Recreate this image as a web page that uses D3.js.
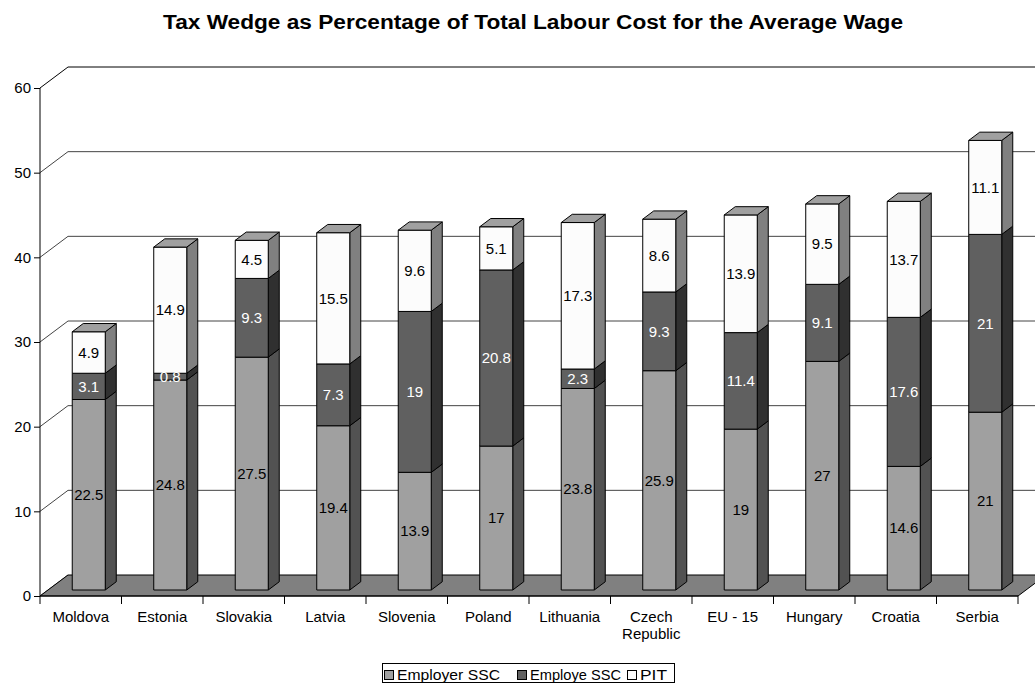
<!DOCTYPE html>
<html>
<head>
<meta charset="utf-8">
<script src="https://cdn.jsdelivr.net/npm/d3@7"></script>
<style>
  body { margin: 0; background: #fff; }
  svg { display: block; font-family: "Liberation Sans", Arial, sans-serif; }
</style>
</head>
<body>
<svg id="chart" width="1035" height="683"></svg>
<script>
// Tax wedge components, % of total labour cost
const countries = ["Moldova", "Estonia", "Slovakia", "Latvia", "Slovenia", "Poland",
                   "Lithuania", "Czech Republic", "EU - 15", "Hungary", "Croatia", "Serbia"];
const employerSSC = [22.5, 24.8, 27.5, 19.4, 13.9, 17, 23.8, 25.9, 19, 27, 14.6, 21];
const employeeSSC = [3.1, 0.8, 9.3, 7.3, 19, 20.8, 2.3, 9.3, 11.4, 9.1, 17.6, 21];
const pit = [4.9, 14.9, 4.5, 15.5, 9.6, 5.1, 17.3, 8.6, 13.9, 9.5, 13.7, 11.1];
const seriesNames = ["Employer SSC", "Employe SSC", "PIT"];
const yTicks = [0, 10, 20, 30, 40, 50, 60];

const series = [
  { name: seriesNames[0], values: employerSSC, front: "#a0a0a0", side: "#525252", top: "#bdbdbd", text: "#000" },
  { name: seriesNames[1], values: employeeSSC, front: "#606060", side: "#303030", top: "#7a7a7a", text: "#fff" },
  { name: seriesNames[2], values: pit,         front: "#fcfcfc", side: "#808080", top: "#a0a0a0", text: "#000" }
];

const svg = d3.select("#chart");
const FS = 15;

// Plot frame: front plane and oblique depth
const left = 40, right = 1018, floorY = 596, topY = 88;
const depthX = 28, depthY = 21;

const x = d3.scaleBand().domain(countries).range([left, right]);
const y = d3.scaleLinear().domain([0, 60]).range([floorY, topY]);

// project (x, value, depth 0..1) to screen
const px = (sx, z) => sx + depthX * z;
const py = (v, z) => y(v) - depthY * z;

const plot = svg.append("g");

// back wall gridlines + left wall diagonals
yTicks.forEach(t => {
  const col = t === 60 ? "#000" : "#444";
  if (t > 0) {
    plot.append("line")
      .attr("x1", px(left, 1)).attr("y1", py(t, 1))
      .attr("x2", px(right, 1) + 20).attr("y2", py(t, 1))
      .attr("stroke", col).attr("stroke-width", 1);
  }
  plot.append("line")
    .attr("x1", px(left, 0)).attr("y1", py(t, 0))
    .attr("x2", px(left, 1)).attr("y2", py(t, 1))
    .attr("stroke", col).attr("stroke-width", 1);
});

// floor
const floorPts = [[px(left, 0), py(0, 0)], [px(right, 0), py(0, 0)],
                  [px(right, 1), py(0, 1)], [px(left, 1), py(0, 1)]];
plot.append("polygon")
  .attr("points", floorPts.map(p => p.join(",")).join(" "))
  .attr("fill", "#808080").attr("stroke", "#000").attr("stroke-width", 1);

// bars
const bw = x.bandwidth() * 0.405;
const z0 = 8 / depthX, z1 = z0 + 11 / depthX;
const bars = plot.append("g");
const labels = plot.append("g");

countries.forEach((c, i) => {
  const xl = x(c) + (x.bandwidth() - bw) / 2;
  const xr = xl + bw;
  let base = 0;
  series.forEach((s, si) => {
    const v = s.values[i];
    const lo = base, hi = base + v;
    base = hi;
    const g = bars.append("g").attr("stroke", "#000").attr("stroke-width", 1).attr("stroke-linejoin", "round");
    // side face
    g.append("polygon")
      .attr("points", [[px(xr, z0), py(lo, z0)], [px(xr, z1), py(lo, z1)],
                       [px(xr, z1), py(hi, z1)], [px(xr, z0), py(hi, z0)]].map(p => p.join(",")).join(" "))
      .attr("fill", s.side);
    // front face
    g.append("rect")
      .attr("x", px(xl, z0)).attr("y", py(hi, z0))
      .attr("width", bw).attr("height", py(lo, z0) - py(hi, z0))
      .attr("fill", s.front);
    // top face on the uppermost segment
    if (si === series.length - 1) {
      g.append("polygon")
        .attr("points", [[px(xl, z0), py(hi, z0)], [px(xr, z0), py(hi, z0)],
                         [px(xr, z1), py(hi, z1)], [px(xl, z1), py(hi, z1)]].map(p => p.join(",")).join(" "))
        .attr("fill", s.top);
    }
    labels.append("text")
      .attr("x", px(xl, z0) + bw / 2)
      .attr("y", (py(lo, z0) + py(hi, z0)) / 2)
      .attr("dy", "0.35em")
      .attr("text-anchor", "middle")
      .attr("font-size", FS)
      .attr("fill", s.text)
      .text(v);
  });
});

// y axis on the front-left edge
const yAxis = d3.axisLeft(y).tickValues(yTicks).tickSize(6).tickPadding(3).tickFormat(d3.format("d"));
const ya = svg.append("g").attr("transform", `translate(${left},0)`).call(yAxis);
ya.select(".domain").attr("stroke", "#000").attr("d", `M0,${floorY}V${topY}`);
ya.selectAll(".tick line").attr("stroke", "#000");
ya.selectAll(".tick text").attr("font-size", FS).attr("font-family", "Liberation Sans, Arial, sans-serif").attr("fill", "#000");

// x axis: baseline, boundary ticks, category names
const xa = svg.append("g");
xa.append("line").attr("x1", left).attr("x2", right).attr("y1", floorY).attr("y2", floorY).attr("stroke", "#000");
const edges = countries.map(c => x(c)).concat([right]);
xa.selectAll("line.edge").data(edges).join("line").attr("class", "edge")
  .attr("x1", d => d).attr("x2", d => d).attr("y1", floorY).attr("y2", floorY + 8).attr("stroke", "#000");
countries.forEach(c => {
  const t = xa.append("text")
    .attr("x", x(c) + x.bandwidth() / 2).attr("y", 622)
    .attr("text-anchor", "middle").attr("font-size", FS).attr("fill", "#000");
  const words = c === "Czech Republic" ? ["Czech", "Republic"] : [c];
  words.forEach((w, k) => t.append("tspan").attr("x", x(c) + x.bandwidth() / 2).attr("dy", k ? 17 : 0).text(w));
});

// title
svg.append("text")
  .attr("x", 533).attr("y", 29)
  .attr("text-anchor", "middle").attr("font-size", 20).attr("font-weight", "bold")
  .attr("font-family", "Liberation Sans, Arial, sans-serif")
  .attr("textLength", 740).attr("lengthAdjust", "spacingAndGlyphs")
  .text("Tax Wedge as Percentage of Total Labour Cost for the Average Wage");

// legend
const lg = svg.append("g");
lg.append("rect").attr("x", 382.5).attr("y", 663.5).attr("width", 292).attr("height", 19)
  .attr("fill", "#fff").attr("stroke", "#000");
const lgX = [384, 517, 627];
series.forEach((s, i) => {
  lg.append("rect").attr("x", lgX[i] + 0.5).attr("y", 670.5).attr("width", 9).attr("height", 9)
    .attr("fill", s.front).attr("stroke", "#000");
  lg.append("text").attr("x", lgX[i] + 13).attr("y", 680).attr("font-size", FS)
    .attr("textLength", i === 2 ? 27 : (i === 0 ? 103 : 91)).attr("lengthAdjust", "spacingAndGlyphs")
    .text(s.name);
});
</script>
</body>
</html>
